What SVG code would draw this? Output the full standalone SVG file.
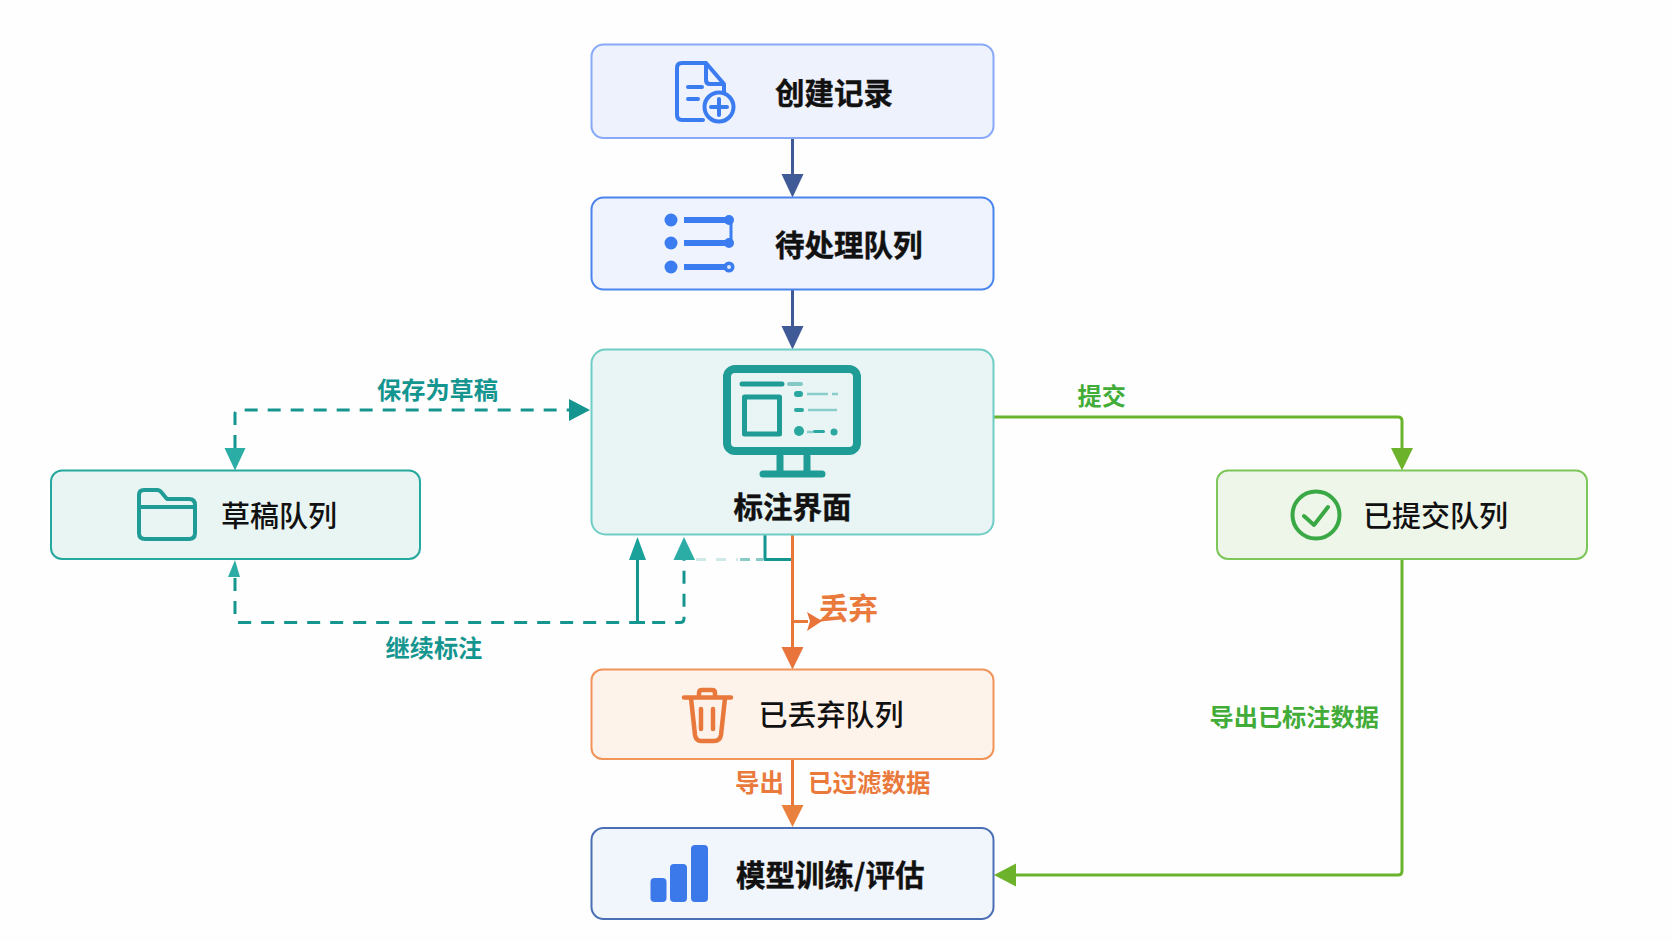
<svg xmlns="http://www.w3.org/2000/svg" width="1672" height="941" viewBox="0 0 1672 941">
<style>
text{font-family:"Noto Sans CJK SC","Liberation Sans",sans-serif}
.t{font-size:29px;fill:#111;font-weight:500}
.b{font-size:29.500px;fill:#111;font-weight:700;stroke:#111;stroke-width:.4px}
.lt{font-size:24.200px;font-weight:700;fill:#14958f}
.lg{font-size:24.200px;font-weight:700;fill:#42ac38}
.lo{font-size:24.500px;font-weight:700;fill:#ea7a3c}
.box{stroke-width:2}
.c{fill:none;stroke-width:3;stroke-linejoin:round}
.navy{stroke:#3f5a96}.teal{stroke:#14958f}.green{stroke:#69b42c}.orange{stroke:#e8783a}
.dash{stroke-dasharray:13 10}
.ib{fill:none;stroke:#3b7cf0;stroke-width:4;stroke-linecap:round;stroke-linejoin:round}
.it{fill:none;stroke:#1f9c95;stroke-linecap:round;stroke-linejoin:round}
.io{fill:none;stroke:#e8783c;stroke-width:4.500;stroke-linecap:round;stroke-linejoin:round}
</style>
<rect width="1672" height="941" fill="#fefefe"/>
<g id="connectors">
<path class="c navy" d="M792.500 138V178"/><polygon fill="#3f5a96" points="781.500,174 803.500,174 792.500,197.500"/>
<path class="c navy" d="M792.500 289.500V330"/><polygon fill="#3f5a96" points="781.500,326 803.500,326 792.500,349.500"/>
<path class="c green" d="M994 417H1398q4 0 4 4V452"/><polygon fill="#6cb22a" points="1391,448 1413,448 1402,470.500"/>
<path class="c green" d="M1402 558.500V871q0 4-4 4H1012"/><polygon fill="#6cb22a" points="1016,863.500 1016,886.500 994,875"/>
<path class="c teal dash" d="M235 448V414q0-4 4-4H570"/><polygon fill="#14958f" points="569,399 569,421 590,410"/><polygon fill="#2bada5" points="224.500,448 245.500,448 235,470.500"/>
<path class="c teal dash" d="M235 578V618.500q0 4 4 4H680q4 0 4-4V560"/><polygon fill="#2bada5" points="228,577 240,577 235,560"/>
<polygon fill="#2bada5" points="673.500,560 695,560 684,537"/>
<path class="c teal" d="M637.500 622.500V545M630 622.500H645"/><polygon fill="#1aa199" points="629,560 646,560 637.500,537"/>
<path class="c teal" d="M765 534V559.500H792"/>
<path class="c teal" opacity=".5" d="M740 559.500H763" stroke-dasharray="10 6"/>
<path class="c teal" opacity=".2" d="M696 559.500H738" stroke-dasharray="10 10"/>
<path class="c orange" d="M792.500 534V650"/><polygon fill="#e8743b" points="781.500,647 803.500,647 792.500,669.500"/>
<path class="c orange" d="M792.500 621.500H808" stroke-width="2"/><path fill="none" stroke="#e8743b" stroke-width="2" d="M818 621q6-1 12-3"/><polygon fill="#e8743b" points="807,612 822,621 807,631 810,621"/>
<path class="c orange" d="M792.500 759.500V808"/><polygon fill="#e9803d" points="781.500,805 803.500,805 792.500,827"/>
</g>
<g id="n-create">
<rect class="box" x="591.500" y="44.500" width="402" height="93.500" rx="12" fill="#eef2fd" stroke="#88a8f8"/>
<path class="ib" d="M706 63H682q-5 0-5 5V115q0 5 5 5H703M706 63L724 84V92M706 63V80q0 4 4 4H724"/>
<path class="ib" d="M688 87H702M688 99H698"/>
<circle class="ib" cx="719" cy="107" r="14.500" fill="#eef2fd"/>
<path class="ib" d="M719 99V115M711 107H727"/>
<text class="b" x="775" y="104">创建记录</text>
</g>
<g id="n-pending">
<rect class="box" x="591.500" y="197.500" width="402" height="92" rx="12" fill="#eef3fd" stroke="#4a84ee"/>
<g fill="#3b7cf0"><circle cx="671" cy="220" r="6.500"/><circle cx="671" cy="243" r="6.500"/><circle cx="671" cy="267" r="6.500"/><circle cx="729" cy="220" r="5"/><circle cx="729" cy="243" r="5"/><circle cx="729" cy="267" r="5.500"/></g>
<path fill="none" stroke="#3b7cf0" stroke-width="6" d="M684 220H728M684 243H726M684 267H726"/>
<path fill="none" stroke="#3b7cf0" stroke-width="3" d="M731 222V241"/>
<circle cx="729" cy="267" r="2" fill="#dfe8fb"/>
<text class="b" x="775" y="256">待处理队列</text>
</g>
<g id="n-annotate">
<rect class="box" x="591.500" y="349.500" width="402" height="185" rx="14" fill="#e8f5f4" stroke="#6fcdc5"/>
<rect class="it" x="727" y="369" width="130" height="82" rx="8" stroke-width="8"/>
<path class="it" stroke-width="7" d="M780 456V474M807 456V474M763 474H822"/>
<path class="it" stroke-width="5" stroke-linecap="butt" d="M742 384H782"/>
<path class="it" stroke-width="4" opacity=".5" d="M789 384H801"/>
<rect class="it" x="744.500" y="397" width="35" height="37" stroke-width="5"/>
<g fill="#2aa79f">
<rect x="794" y="391" width="9" height="6" rx="3"/><rect x="794" y="408" width="10" height="4" rx="2"/><circle cx="799" cy="431" r="5"/><circle cx="834" cy="432" r="3.500"/><rect x="813" y="430" width="12" height="3" rx="1.500"/></g>
<path fill="none" stroke="#2aa79f" stroke-width="2.500" opacity=".5" d="M807 394H828M832 394H838M808 410H837M807 432H813"/>
<text class="b" x="792.500" y="518" text-anchor="middle">标注界面</text>
</g>
<g id="n-draft">
<rect class="box" x="51" y="470.500" width="369" height="88.500" rx="11" fill="#e9f5f3" stroke="#25a89d"/>
<path class="it" stroke-width="4" d="M139 495q0-5 5-5H157q3 0 5 3L167 499H189q6 0 6 6V533q0 6-6 6H145q-6 0-6-6ZM139 507H195"/>
<text class="t" x="221" y="527">草稿队列</text>
</g>
<g id="n-submitted">
<rect class="box" x="1217" y="470.500" width="370" height="88.500" rx="11" fill="#eef6ea" stroke="#7cc65a"/>
<circle cx="1316" cy="515" r="23.500" fill="none" stroke="#3aa844" stroke-width="4"/>
<path fill="none" stroke="#3aa844" stroke-width="4" stroke-linecap="round" stroke-linejoin="round" d="M1304 516L1314 525L1328 507"/>
<text class="t" x="1363" y="527">已提交队列</text>
</g>
<g id="n-discarded">
<rect class="box" x="591.500" y="669.500" width="402" height="89.500" rx="11" fill="#fef3ea" stroke="#f0945a"/>
<path class="io" d="M684 697.500H731M691 698L695 735q1 6 6 6H714q6 0 7-6L725 698M699 697V693q0-3 3-3H712q3 0 3 3V697M701 709V729M713 709V729"/>
<text class="t" x="758.500" y="725.500">已丢弃队列</text>
</g>
<g id="n-model">
<rect class="box" x="591.500" y="828" width="402" height="91" rx="12" fill="#f1f5fc" stroke="#4a6fb5"/>
<g fill="#3b78ea"><rect x="650.500" y="878" width="16" height="24" rx="4"/><rect x="670" y="864" width="17" height="38" rx="4"/><rect x="691" y="845" width="17" height="57" rx="4"/></g>
<text class="b" x="736" y="886">模型训练/评估</text>
</g>
<g id="labels">
<text class="lt" x="377" y="399">保存为草稿</text>
<text class="lt" x="385.500" y="657">继续标注</text>
<text class="lg" x="1077.500" y="404.500">提交</text>
<text class="lg" x="1209.500" y="726">导出已标注数据</text>
<text class="lo" style="font-size:29.500px" x="819" y="619">丢弃</text>
<text class="lo" x="735" y="792">导出</text>
<text class="lo" x="808" y="792">已过滤数据</text>
</g>
</svg>
